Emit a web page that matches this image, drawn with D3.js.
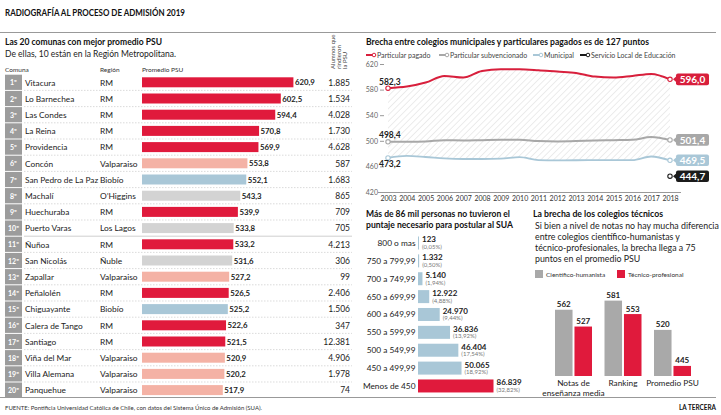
<!DOCTYPE html>
<html><head><meta charset="utf-8">
<script src="https://cdn.jsdelivr.net/npm/d3@7"></script>
<style>
body{margin:0;background:#fff;}
svg{display:block;font-family:Lato,'Noto Sans',sans-serif;}
</style></head><body>
<svg id="c" width="721" height="415"></svg>
<script>
// ---------- DATA ----------
const comunas = ["Vitacura","Lo Barnechea","Las Condes","La Reina","Providencia","Concón","San Pedro de La Paz","Machalí","Huechuraba","Puerto Varas","Ñuñoa","San Nicolás","Zapallar","Peñalolén","Chiguayante","Calera de Tango","Santiago","Viña del Mar","Villa Alemana","Panquehue"];
const regiones = ["RM","RM","RM","RM","RM","Valparaiso","Biobío","O’Higgins","RM","Los Lagos","RM","Ñuble","Valparaiso","RM","Biobío","RM","RM","Valparaiso","Valparaiso","Valparaiso"];
const promedios = [620.9,602.5,594.4,570.8,569.9,553.8,552.1,543.3,539.9,533.8,533.2,531.6,527.2,526.5,525.2,522.6,521.5,520.9,520.2,517.9];
const alumnos = [1885,1534,4028,1730,4628,587,1683,865,709,705,4213,306,99,2406,1506,347,12381,4906,1978,74];

const years = [2003,2004,2005,2006,2007,2008,2009,2010,2011,2012,2013,2014,2015,2016,2017,2018];
const pagado = [582.3,584.8,591.0,601.4,598.8,609.2,611.8,611.8,610.3,608.1,606.1,600.3,598.8,601.4,604.5,596.0];
const subvencionado = [498.4,498.5,499.0,501.0,500.5,501.0,501.5,501.5,499.5,499.0,499.5,500.5,501.0,501.5,506.0,501.4];
const municipal = [473.2,476.3,474.7,472.5,471.6,471.6,472.0,474.6,469.9,469.4,469.6,469.8,469.8,469.9,475.5,469.5];
const slepYears = [2018];
const slep = [444.7];
const yTicks = [420,460,500,540,580,620];
const seriesNames = ["Particular pagado","Particular subvencionado","Municipal","Servicio Local de Educación"];

const rangos = ["800 o mas","750 a 799,99","700 a 749,99","650 a 699,99","600 a 649,99","550 a 599,99","500 a 549,99","450 a 499,99","Menos de 450"];
const personas = [123,1332,5140,12922,24970,36836,46404,50065,86839];
const porcentajes = [0.05,0.50,1.94,4.88,9.44,13.92,17.54,18.92,32.82];

const grupos = ["Notas de enseñanza media","Ranking","Promedio PSU"];
const cientifico = [562,581,520];
const tecnico = [527,553,445];
const tiposColegio = ["Científico-humanista","Técnico-profesional"];

// ---------- STYLE ----------
const RED = "#e01a3c", SALMON = "#f4b2a5", BLUE = "#a9c7d7", LGRAY = "#d3d3d3", GRAY = "#a9a9a9", DARK = "#1b1b1b";
const regionColor = r => r === "RM" ? RED : r === "Valparaiso" ? SALMON : r === "Biobío" ? BLUE : LGRAY;
const loc = d3.formatLocale({decimal:",", thousands:".", grouping:[3], currency:["$",""]});
const f1 = loc.format(".1f"), fInt = loc.format(",d"), f2 = loc.format(".2f");

const svg = d3.select("#c");
const txt = (x,y,s,o={}) => {
  const t = svg.append("text").attr("x",x).attr("y",y).text(s)
    .attr("font-size",o.size||8).attr("fill",o.fill||"#222")
    .attr("font-weight",o.bold?700:400).attr("text-anchor",o.anchor||"start");
  if(o.len) t.attr("textLength",o.len).attr("lengthAdjust","spacingAndGlyphs");
  return t;
};

// ---------- HEADER / FOOTER ----------
txt(5,16,"RADIOGRAFÍA AL PROCESO DE ADMISIÓN 2019",{size:9,bold:true,len:180,fill:"#111"});
svg.append("line").attr("x1",0).attr("x2",716).attr("y1",32.5).attr("y2",32.5).attr("stroke","#999").attr("stroke-width",1);
svg.append("line").attr("x1",0).attr("x2",716).attr("y1",397.5).attr("y2",397.5).attr("stroke","#999").attr("stroke-width",1);
txt(5,409.5,"FUENTE: Pontificia Universidad Católica de Chile, con datos del Sistema Único de Admisión (SUA).",{size:6.5,fill:"#333",len:257});
txt(716,409.5,"LA TERCERA",{size:7,bold:true,anchor:"end",fill:"#111",len:37});

// ---------- LEFT TABLE ----------
txt(5,45,"Las 20 comunas con mejor promedio PSU",{size:9,bold:true,len:157,fill:"#111"});
txt(5,56.5,"De ellas, 10 están en la Región Metropolitana.",{size:8.5,len:171,fill:"#222"});
txt(5,72,"Comuna",{size:6.5,fill:"#333"});
txt(100,72,"Región",{size:6.5,fill:"#333"});
txt(142,72,"Promedio PSU",{size:6.5,fill:"#333"});
const hdr = svg.append("text").attr("transform","translate(335,69) rotate(-90)").attr("font-size",6).attr("fill","#444");
["Alumnos que","rindieron","la PSU"].forEach((s,i)=>hdr.append("tspan").attr("x",0).attr("dy",i?6:0).text(s));

const rowY = d3.scaleBand().domain(comunas).range([74.2,398.2]);
const xPSU = d3.scaleLinear().domain([400,650]).range([142,313.35]);
const rows = svg.append("g").selectAll("g").data(comunas).join("g")
  .attr("transform",d=>`translate(0,${rowY(d)+rowY.bandwidth()/2})`);
rows.append("rect").attr("x",5).attr("y",-7.6).attr("width",17).attr("height",15.2).attr("fill","#9c9c9c");
rows.append("text").attr("x",13.5).attr("y",3).attr("text-anchor","middle").attr("font-size",7).attr("font-weight",700)
  .attr("fill","#fff").text((d,i)=>(i+1)+"º");
rows.append("text").attr("x",25).attr("y",3.2).attr("font-size",8.3).attr("fill","#222").text(d=>d);
rows.append("text").attr("x",100).attr("y",3.2).attr("font-size",8.4).attr("fill","#222").text((d,i)=>regiones[i]);
rows.append("rect").attr("x",xPSU(400)).attr("y",-5).attr("height",10)
  .attr("width",(d,i)=>xPSU(promedios[i])-xPSU(400)).attr("fill",(d,i)=>regionColor(regiones[i]));
rows.append("text").attr("x",(d,i)=>xPSU(promedios[i])+1.5).attr("y",3).attr("font-size",7.8).attr("font-weight",700)
  .attr("fill","#222").text((d,i)=>f1(promedios[i]));
rows.append("text").attr("x",350).attr("y",3.2).attr("text-anchor","end").attr("font-size",8.5).attr("fill","#222")
  .text((d,i)=>fInt(alumnos[i]));
rows.filter((d,i)=>i<comunas.length-1).append("line").attr("x1",24).attr("x2",352).attr("y1",8.1).attr("y2",8.1)
  .attr("stroke",(d,i)=>i===9?"#bbb":"#ccc").attr("stroke-dasharray",(d,i)=>i===9?null:"1.5,1.5").attr("stroke-width",0.7);

// ---------- LINE CHART ----------
txt(366,45,"Brecha entre colegios municipales y particulares pagados es de 127 puntos",{size:9,bold:true,len:283,fill:"#111"});
const xY = d3.scalePoint().domain(years).range([388,670]);
const yY = d3.scaleLinear().domain([420,620]).range([192,64]);
const defs = svg.append("defs");
const pat = defs.append("pattern").attr("id","hatch").attr("patternUnits","userSpaceOnUse").attr("width",4.5).attr("height",4.5)
  .attr("patternTransform","rotate(45)");
pat.append("line").attr("x1",0).attr("y1",0).attr("x2",0).attr("y2",4.5).attr("stroke","#dcdcdc").attr("stroke-width",1.1);
const curve = d3.curveMonotoneX;
svg.append("path").datum(years).attr("fill","url(#hatch)")
  .attr("d",d3.area().x(d=>xY(d)).y0((d,i)=>yY(municipal[i])).y1((d,i)=>yY(pagado[i])).curve(curve));
// axis
const gx = svg.append("g").attr("transform","translate(0,192)")
  .call(d3.axisBottom(xY).tickSize(0).tickPadding(4));
gx.select(".domain").attr("stroke","#999").attr("d","M378,0.5H681");
gx.selectAll("text").attr("font-size",7).attr("fill","#333").attr("font-family","Lato");
const gy = svg.append("g").attr("transform","translate(384,0)")
  .call(d3.axisLeft(yY).tickValues(yTicks).tickSize(4).tickPadding(2));
gy.select(".domain").remove();
gy.selectAll("line").attr("stroke","#999");
gy.selectAll("text").attr("font-size",7).attr("fill","#666").attr("font-family","Lato");

const series = [
  {name:seriesNames[0], vals:pagado, color:"#d81f3c", w:2, yrs:years},
  {name:seriesNames[1], vals:subvencionado, color:"#a8a8a8", w:2, yrs:years},
  {name:seriesNames[2], vals:municipal, color:"#a9c7d7", w:1.8, yrs:years},
  {name:seriesNames[3], vals:slep, color:DARK, w:2, yrs:slepYears}
];
const line = d3.line().x(d=>xY(d[0])).y(d=>yY(d[1])).curve(curve);
series.forEach(s=>{
  const pts = s.yrs.map((y,i)=>[y,s.vals[i]]);
  if(pts.length>1) svg.append("path").datum(pts).attr("fill","none").attr("stroke",s.color).attr("stroke-width",s.w).attr("d",line);
  const ends = pts.length>1 ? [pts[0],pts[pts.length-1]] : pts;
  svg.selectAll(null).data(ends).join("circle").attr("cx",d=>xY(d[0])).attr("cy",d=>yY(d[1])).attr("r",2.2)
    .attr("fill","#fff").attr("stroke",s.color).attr("stroke-width",1.1);
  const last = pts[pts.length-1];
  const cy = yY(last[1]), bx = xY(last[0])+6;
  svg.append("path").attr("fill",s.color)
    .attr("d",`M${bx-3},${cy}L${bx+1},${cy-3.5}L${bx+1},${cy+3.5}Z`);
  svg.append("rect").attr("x",bx).attr("y",cy-5.8).attr("width",33).attr("height",11.6).attr("rx",2).attr("fill",s.color);
  txt(bx+16.5,cy+3.6,f1(last[1]),{size:10,bold:true,anchor:"middle",fill:"#fff"});
});
// first values
txt(379,85,f1(pagado[0]),{size:8.5,bold:true,fill:"#222"});
txt(379,137.5,f1(subvencionado[0]),{size:8.5,bold:true,fill:"#222"});
txt(379,167,f1(municipal[0]),{size:8.5,bold:true,fill:"#222"});
// legend
const legX = [366,439,533,580];
series.forEach((s,i)=>{
  const x = legX[i];
  svg.append("line").attr("x1",x).attr("x2",x+7).attr("y1",55).attr("y2",55).attr("stroke",s.color).attr("stroke-width",2);
  svg.append("circle").attr("cx",x+8).attr("cy",55).attr("r",1.8).attr("fill","#fff").attr("stroke",s.color).attr("stroke-width",1);
  txt(x+11,57.5,s.name,{size:7,fill:"#444"});
});

// ---------- DISTRIBUTION ----------
txt(366,216.5,"Más de 86 mil personas no tuvieron el",{size:9,bold:true,fill:"#111",len:144});
txt(366,228,"puntaje necesario para postular al SUA",{size:9,bold:true,fill:"#111",len:147});
const yR = d3.scaleBand().domain(rangos).range([234.06,394.9]);
const xR = d3.scaleLinear().domain([0,86839]).range([418,493.5]);
const rg = svg.append("g").selectAll("g").data(rangos).join("g")
  .attr("transform",d=>`translate(0,${yR(d)+yR.bandwidth()/2})`);
rg.append("text").attr("x",415.5).attr("y",3).attr("text-anchor","end").attr("font-size",8.3).attr("fill","#222").text(d=>d);
rg.append("rect").attr("x",xR(0)).attr("y",-6.5).attr("height",13)
  .attr("width",(d,i)=>Math.max(1,xR(personas[i])-xR(0))).attr("fill",(d,i)=>i===rangos.length-1?RED:BLUE);
rg.append("text").attr("x",(d,i)=>Math.max(xR(0)+1,xR(personas[i]))+3).attr("y",-0.5).attr("font-size",8).attr("font-weight",700)
  .attr("fill","#222").text((d,i)=>fInt(personas[i]));
rg.append("text").attr("x",(d,i)=>Math.max(xR(0)+1,xR(personas[i]))+3).attr("y",6).attr("font-size",6).attr("fill","#777")
  .text((d,i)=>"("+f2(porcentajes[i])+"%)");

// ---------- TECNICOS ----------
txt(533,216.5,"La brecha de los colegios técnicos",{size:9,bold:true,fill:"#111",len:130});
["Si bien a nivel de notas no hay mucha diferencia","entre colegios científico-humanistas y","técnico-profesionales, la brecha llega a 75","puntos en el promedio PSU"]
  .forEach((s,i)=>txt(535,228.5+i*11,s,{size:8.8,fill:"#222"}));
const legC = [GRAY,RED];
tiposColegio.forEach((s,i)=>{
  const x = [535,617][i];
  svg.append("rect").attr("x",x).attr("y",270).attr("width",8).attr("height",8).attr("fill",legC[i]);
  txt(x+11,276.5,s,{size:6.5,fill:"#333"});
});
const xG = d3.scaleBand().domain(grupos).range([555,691]).paddingInner(0.2525).paddingOuter(0);
const xS = d3.scaleBand().domain([0,1]).range([0,xG.bandwidth()]).paddingInner(0.1);
const yG = d3.scaleLinear().domain([424,600]).range([376,291.5]);
const gg = svg.append("g").selectAll("g").data(grupos).join("g").attr("transform",d=>`translate(${xG(d)},0)`);
[cientifico,tecnico].forEach((vals,k)=>{
  gg.append("rect").attr("x",xS(k)).attr("width",xS.bandwidth()).attr("y",(d,i)=>yG(vals[i]))
    .attr("height",(d,i)=>yG(424)-yG(vals[i])).attr("fill",legC[k]);
  gg.append("text").attr("x",xS(k)+xS.bandwidth()/2).attr("y",(d,i)=>yG(vals[i])-2.5).attr("text-anchor","middle")
    .attr("font-size",8).attr("font-weight",700).attr("fill","#222").text((d,i)=>vals[i]);
});
const labLines = {"Notas de enseñanza media":["Notas de","enseñanza media"]};
gg.each(function(d){
  const lines = labLines[d] || [d];
  lines.forEach((s,j)=>d3.select(this).append("text").attr("x",xG.bandwidth()/2).attr("y",386+j*10)
    .attr("text-anchor","middle").attr("font-size",8.3).attr("fill","#222").text(s));
});
</script>
</body></html>
